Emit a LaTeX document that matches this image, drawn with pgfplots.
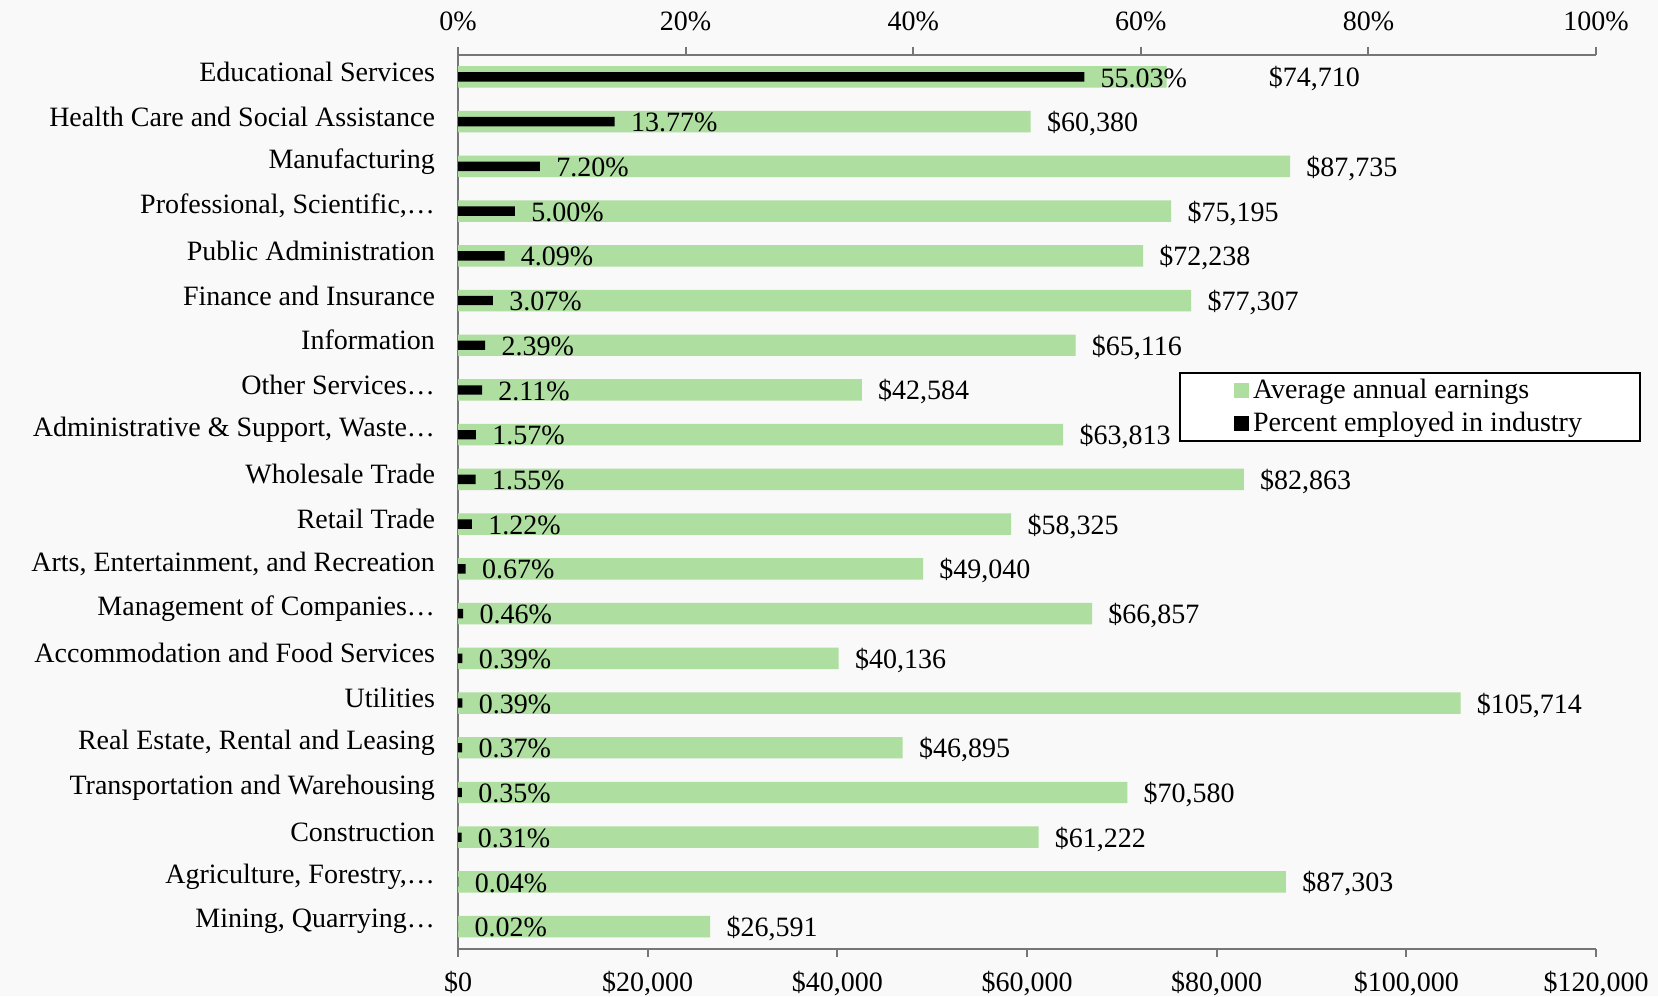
\documentclass[border=0pt]{standalone}
\usepackage{fontspec}
\setmainfont{Liberation Serif}
\usepackage{pgfplots}
\usepackage{pgfplotstable}
\pgfplotsset{compat=1.18}

\definecolor{earn}{RGB}{175,222,161}
\definecolor{axgray}{RGB}{118,118,118}
\definecolor{bg}{RGB}{249,249,249}

% idx: row from the top, earn: average annual earnings (USD),
% pct: percent employed in the industry, dx: extra label offset (pt)
\pgfplotstableread{
idx earn   pct   dx
0   74710  55.03 43
1   60380  13.77 0
2   87735  7.20  0
3   75195  5.00  0
4   72238  4.09  0
5   77307  3.07  0
6   65116  2.39  0
7   42584  2.11  0
8   63813  1.57  0
9   82863  1.55  0
10  58325  1.22  0
11  49040  0.67  0
12  66857  0.46  0
13  40136  0.39  0
14  105714 0.39  0
15  46895  0.37  0
16  70580  0.35  0
17  61222  0.31  0
18  87303  0.04  0
19  26591  0.02  0
}\industry

\newcommand{\lblfont}{\fontsize{14}{16}\selectfont}

\pgfplotsset{
  industryaxis/.style={
    at={(229pt,23.5pt)}, anchor=south west,
    width=569pt, height=447pt, scale only axis,
    ymin=-0.49, ymax=19.5, y dir=reverse,
    axis line style={-, axgray, line width=1pt},
    tick style={axgray, line width=1pt},
    tick align=outside, major tick length=4pt,
    every tick label/.append style={font=\lblfont},
    scaled x ticks=false,
    clip=false,
  },
}

\begin{document}
\begin{tikzpicture}[x=1pt,y=1pt]
\fill[bg] (0,0) rectangle (829,498);

% Earnings (bottom axis)
\begin{axis}[
  industryaxis,
  xmin=0, xmax=120000,
  axis x line*=bottom, axis y line*=left,
  xtick={0,20000,40000,60000,80000,100000,120000},
  xticklabel={\$\pgfmathprintnumber[fixed,precision=0,1000 sep={,},assume math mode=true]{\tick}},
  xticklabel style={yshift=-3.8pt},
  ytick={0,...,19},
  ytick style={draw=none},
  yticklabel style={xshift=-4pt, yshift=2.5pt},
  yticklabels={
    {Educational Services},
    {Health Care and Social Assistance},
    {Manufacturing},
    {Professional, Scientific,…},
    {Public Administration},
    {Finance and Insurance},
    {Information},
    {Other Services…},
    {Administrative \& Support, Waste…},
    {Wholesale Trade},
    {Retail Trade},
    {Arts, Entertainment, and Recreation},
    {Management of Companies…},
    {Accommodation and Food Services},
    {Utilities},
    {Real Estate, Rental and Leasing},
    {Transportation and Warehousing},
    {Construction},
    {Agriculture, Forestry,…},
    {Mining, Quarrying…},
  },
]
\addplot[
  xbar, bar width=0.48, bar shift=0, fill=earn, draw=none,
  point meta=x,
  visualization depends on={\thisrow{dx} \as \dx},
  nodes near coords={\$\pgfmathprintnumber[fixed,precision=0,1000 sep={,},assume math mode=true]{\pgfplotspointmeta}},
  every node near coord/.append style={anchor=west, inner sep=0pt,
    xshift={(8+\dx)*1pt}, yshift=-1pt, font=\lblfont, text=black},
] table[x=earn, y=idx] {\industry};
\end{axis}

% Share of employment (top axis)
\begin{axis}[
  industryaxis,
  xmin=0, xmax=100,
  axis x line*=top, axis y line=none,
  xtick={0,20,40,60,80,100},
  xticklabel={\pgfmathprintnumber[assume math mode=true]{\tick}\%},
  xticklabel style={yshift=4.5pt},
  legend style={
    at={(0.6336,0.6454)}, anchor=north west,
    draw=black, line width=1pt, fill=white,
    font=\lblfont, inner xsep=27pt, inner ysep=1pt,
    row sep=1.5pt,
  },
  legend cell align=left,
  legend image code/.code={\fill[#1] (0pt,-3.75pt) rectangle (7.5pt,3.75pt);},
]
\addlegendimage{fill=earn, draw=none}
\addlegendentry{Average annual earnings}
\addplot[
  xbar, bar width=0.21, bar shift=0, fill=black, draw=none,
  point meta=x,
  nodes near coords={\pgfmathprintnumber[fixed,fixed zerofill,precision=2,assume math mode=true]{\pgfplotspointmeta}\%},
  every node near coord/.append style={anchor=west, inner sep=0pt,
    xshift=8pt, yshift=-0.5pt, font=\lblfont, text=black},
] table[x=pct, y=idx] {\industry};
\addlegendentry{Percent employed in industry}
\end{axis}

\pgfresetboundingbox
\useasboundingbox (0,0) rectangle (829,498);
\end{tikzpicture}
\end{document}
